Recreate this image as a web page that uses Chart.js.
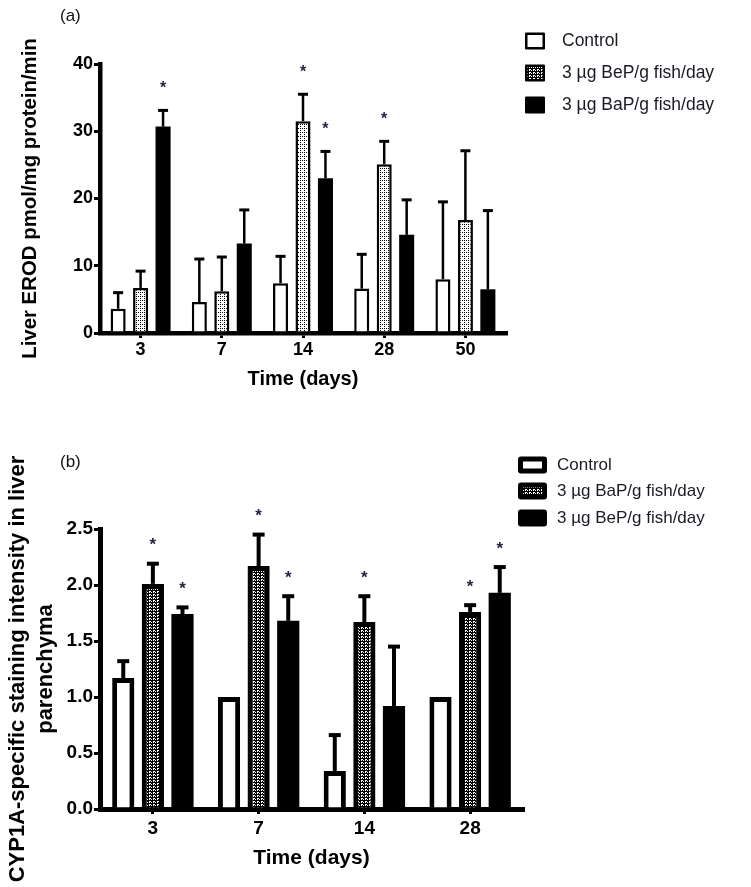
<!DOCTYPE html>
<html><head><meta charset="utf-8">
<script src="https://cdn.jsdelivr.net/npm/chart.js@4.4.1/dist/chart.umd.min.js"></script>
<style>
html,body{margin:0;padding:0;background:#fff;width:751px;height:887px;overflow:hidden;}
canvas{position:absolute;left:0;display:block;}
#ca{top:0;}
#cb{top:420px;}
</style></head><body>
<canvas id="ca" width="751" height="420" style="width:751px;height:420px"></canvas>
<canvas id="cb" width="751" height="467" style="width:751px;height:467px"></canvas>
<script>
// ---------- Panel (a): liver EROD ----------
const daysA = ['3', '7', '14', '28', '50'];
const ticksA = [0, 10, 20, 30, 40];
const controlA = [3.6, 4.6, 7.4, 6.6, 8.0];
const controlAErr = [2.4, 6.4, 4.0, 5.1, 11.5];
const controlAStar = [0, 0, 0, 0, 0];
const bepA = [6.7, 6.2, 31.5, 25.1, 16.8];
const bepAErr = [2.5, 5.1, 4.0, 3.4, 10.3];
const bepAStar = [0, 0, 1, 1, 0];
const bapA = [30.7, 13.3, 23.0, 14.6, 6.5];
const bapAErr = [2.4, 5.0, 4.0, 5.2, 11.7];
const bapAStar = [1, 0, 1, 0, 0];
const legendA = ['Control', '3 \u00B5g BeP/g fish/day', '3 \u00B5g BaP/g fish/day'];

// ---------- Panel (b): CYP1A staining ----------
const daysB = ['3', '7', '14', '28'];
const ticksB = [0, 0.5, 1.0, 1.5, 2.0, 2.5];
const controlB = [1.17, 1.0, 0.34, 1.0];
const controlBErr = [0.15, 0, 0.32, 0];
const controlBStar = [0, 0, 0, 0];
const bapB = [2.01, 2.17, 1.67, 1.76];
const bapBErr = [0.18, 0.28, 0.23, 0.06];
const bapBStar = [1, 1, 1, 1];
const bepB = [1.74, 1.68, 0.92, 1.93];
const bepBErr = [0.06, 0.22, 0.53, 0.23];
const bepBStar = [1, 1, 0, 1];
const legendB = ['Control', '3 \u00B5g BaP/g fish/day', '3 \u00B5g BeP/g fish/day'];

const FONT = "'Liberation Sans', Arial, sans-serif";

function makePattern(kind) {
  const c = document.createElement('canvas');
  const x = c.getContext('2d');
  if (kind === 'light') {
    c.width = 4; c.height = 4;
    x.fillStyle = '#fff'; x.fillRect(0, 0, 4, 4);
    x.fillStyle = '#000';
    x.fillRect(0, 0, 1, 1); x.fillRect(0, 2, 1, 1); x.fillRect(2, 0, 1, 1);
  } else {
    c.width = 4; c.height = 3;
    x.fillStyle = '#000'; x.fillRect(0, 0, 4, 3);
    x.fillStyle = '#fff';
    x.fillRect(1, 0, 1, 2); x.fillRect(3, 1, 1, 1); x.fillRect(2, 0, 1, 1);
  }
  return document.createElement('canvas').getContext('2d').createPattern(c, 'repeat');
}
const patA = makePattern('light');
const patB = makePattern('dark');

const errPlugin = {
  id: 'errbars',
  afterDatasetsDraw(chart, args, o) {
    const ctx = chart.ctx, ys = chart.scales.y;
    chart.data.datasets.forEach((ds, i) => {
      const meta = chart.getDatasetMeta(i);
      meta.data.forEach((el, j) => {
        const v = ds.data[j], e = ds.errors[j];
        const yTop = ys.getPixelForValue(v + e);
        ctx.save();
        ctx.strokeStyle = '#000';
        ctx.lineWidth = o.lineWidth;
        if (e > 0) {
          ctx.beginPath(); ctx.moveTo(el.x, el.y); ctx.lineTo(el.x, yTop); ctx.stroke();
          ctx.lineWidth = o.capLine;
          ctx.beginPath(); ctx.moveTo(el.x - o.capWidth / 2, yTop); ctx.lineTo(el.x + o.capWidth / 2, yTop); ctx.stroke();
        }
        if (ds.stars[j]) {
          ctx.font = o.starFont; ctx.fillStyle = o.starColor;
          ctx.textAlign = 'center'; ctx.textBaseline = 'alphabetic';
          const m = ctx.measureText('*');
          const cy = yTop - o.starGap;
          ctx.fillText('*', el.x, cy + (m.actualBoundingBoxAscent - m.actualBoundingBoxDescent) / 2);
        }
        ctx.restore();
      });
    });
  }
};

const decoPlugin = {
  id: 'deco',
  afterDraw(chart, args, o) {
    const ctx = chart.ctx;
    ctx.save();
    ctx.font = o.tagFont; ctx.fillStyle = '#111'; ctx.textBaseline = 'middle'; ctx.textAlign = 'left';
    ctx.fillText(o.tag, o.tagX, o.tagY);
    chart.data.datasets.forEach((ds, i) => {
      const cy = o.rows[i];
      const x0 = o.boxX, y0 = cy - o.boxH / 2;
      const fill = (o.swatch && o.swatch[i]) || ds.backgroundColor;
      ctx.beginPath();
      if (ctx.roundRect) ctx.roundRect(x0, y0, o.boxW, o.boxH, o.radius); else ctx.rect(x0, y0, o.boxW, o.boxH);
      ctx.fillStyle = ds.borderWidth > 0 ? '#000' : fill;
      ctx.fill();
      if (ds.borderWidth > 0) {
        const b = o.boxBorder;
        ctx.fillStyle = fill;
        ctx.fillRect(x0 + b, y0 + b, o.boxW - 2 * b, o.boxH - 2 * b);
      }
      ctx.font = o.font; ctx.fillStyle = '#1a1a24'; ctx.textBaseline = 'middle'; ctx.textAlign = 'left';
      ctx.fillText(ds.label, o.textX, cy);
    });
    ctx.restore();
  }
};

function scaleOpts(cfg) {
  return {
    x: {
      type: 'category',
      afterFit: s => { s.height = cfg.xH; },
      grid: { display: true, drawOnChartArea: false, offset: false, drawTicks: true, tickLength: 5, color: '#000', lineWidth: 3 },
      border: { display: true, color: '#000', width: cfg.axisW },
      ticks: { color: '#000', font: { family: FONT, size: cfg.tickSize, weight: 'bold' }, padding: cfg.xTickPad, maxRotation: 0 },
      title: { display: true, text: 'Time (days)', color: '#000', font: { family: FONT, size: cfg.titleSize, weight: 'bold' }, padding: { top: 0, bottom: cfg.xTitlePad } }
    },
    y: {
      min: 0, max: cfg.max,
      afterFit: s => { s.width = 100; },
      afterBuildTicks: s => { s.ticks = cfg.ticks.map(v => ({ value: v })); },
      grid: { display: true, drawOnChartArea: false, drawTicks: true, tickLength: 6, color: '#000', lineWidth: 3 },
      border: { display: true, color: '#000', width: cfg.axisW },
      ticks: { color: '#000', font: { family: FONT, size: cfg.yTickSize, weight: 'bold' }, padding: 1, callback: cfg.fmt },
      title: { display: true, text: cfg.yTitle, color: '#000', font: { family: FONT, size: cfg.yTitleSize, weight: 'bold', lineHeight: cfg.yTitleLH }, padding: { top: cfg.yTitlePad, bottom: 0 } }
    }
  };
}

new Chart(document.getElementById('ca'), {
  type: 'bar',
  data: {
    labels: daysA,
    datasets: [
      { label: legendA[0], data: controlA, errors: controlAErr, stars: controlAStar, backgroundColor: '#fff', borderColor: '#000', borderWidth: 2.5, borderSkipped: 'start' },
      { label: legendA[1], data: bepA, errors: bepAErr, stars: bepAStar, backgroundColor: patA, borderColor: '#000', borderWidth: 2.5, borderSkipped: 'start' },
      { label: legendA[2], data: bapA, errors: bapAErr, stars: bapAStar, backgroundColor: '#000', borderColor: '#000', borderWidth: 0 }
    ]
  },
  options: {
    responsive: false, animation: false, devicePixelRatio: 1,
    categoryPercentage: 0.83, barPercentage: 0.67,
    layout: { padding: { top: 64, right: 245, bottom: 0, left: 0 } },
    plugins: {
      legend: { display: false }, tooltip: { enabled: false },
      errbars: { lineWidth: 2.5, capLine: 3, capWidth: 10, starGap: 26, starFont: 'bold 16px ' + FONT, starColor: '#1f2340' },
      deco: { tag: '(a)', tagX: 60, tagY: 16, tagFont: '17px ' + FONT,
        rows: [41, 73, 105], boxX: 525, boxW: 20, boxH: 17, radius: 1, boxBorder: 2.5, textX: 562, font: '17.5px ' + FONT,
        swatch: [null, patB, null] }
    },
    scales: scaleOpts({ xH: 87, axisW: 4.5, tickSize: 18, yTickSize: 18, titleSize: 20, yTitleSize: 20.4, xTitlePad: 29, xTickPad: 1, max: 40, ticks: ticksA,
      fmt: v => String(v), yTitle: 'Liver EROD pmol/mg protein/min', yTitleLH: 1.2, yTitlePad: 18 })
  },
  plugins: [errPlugin, decoPlugin]
});

new Chart(document.getElementById('cb'), {
  type: 'bar',
  data: {
    labels: daysB,
    datasets: [
      { label: legendB[0], data: controlB, errors: controlBErr, stars: controlBStar, backgroundColor: '#fff', borderColor: '#000', borderWidth: 5, borderSkipped: 'start' },
      { label: legendB[1], data: bapB, errors: bapBErr, stars: bapBStar, backgroundColor: patB, borderColor: '#000', borderWidth: 5, borderSkipped: 'start' },
      { label: legendB[2], data: bepB, errors: bepBErr, stars: bepBStar, backgroundColor: '#000', borderColor: '#000', borderWidth: 0 }
    ]
  },
  options: {
    responsive: false, animation: false, devicePixelRatio: 1,
    categoryPercentage: 0.84, barPercentage: 0.75,
    layout: { padding: { top: 109, right: 228, bottom: 0, left: 0 } },
    plugins: {
      legend: { display: false }, tooltip: { enabled: false },
      errbars: { lineWidth: 4, capLine: 4, capWidth: 12, starGap: 22, starFont: 'bold 17px ' + FONT, starColor: '#1f2340' },
      deco: { tag: '(b)', tagX: 60, tagY: 42, tagFont: '17px ' + FONT,
        rows: [45, 71, 98], boxX: 518, boxW: 29, boxH: 17, radius: 3, boxBorder: 5, textX: 557, font: '17px ' + FONT }
    },
    scales: scaleOpts({ xH: 78, axisW: 5, tickSize: 19, yTickSize: 19, titleSize: 21, yTitleSize: 22, xTitlePad: 16, xTickPad: 3, max: 2.5, ticks: ticksB,
      fmt: v => Number(v).toFixed(1), yTitle: ['CYP1A-specific staining intensity in liver', 'parenchyma'], yTitleLH: 1.27, yTitlePad: 4 })
  },
  plugins: [errPlugin, decoPlugin]
});
</script>
</body></html>
